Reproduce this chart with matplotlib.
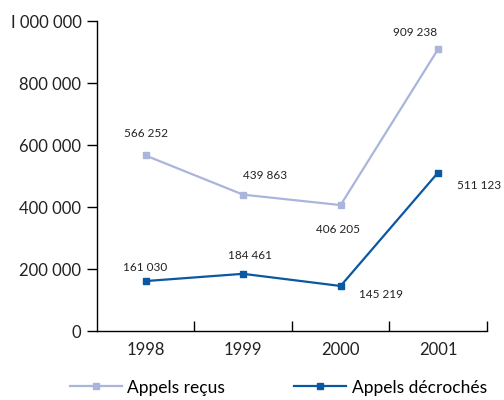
import matplotlib
matplotlib.use("Agg")
import matplotlib.pyplot as plt

years = ["1998", "1999", "2000", "2001"]
recus = [566252, 439863, 406205, 909238]
decroches = [161030, 184461, 145219, 511123]
lbl_recus = ["566 252", "439 863", "406 205", "909 238"]
lbl_decroches = ["161 030", "184 461", "145 219", "511 123"]
yticks = [0, 200000, 400000, 600000, 800000, 1000000]
ytick_labels = ["0", "200 000", "400 000", "600 000", "800 000", "I 000 000"]

light = "#aab5dc"
dark = "#0a57a4"
txt = "#222222"

plt.rcParams["font.family"] = ["Lato", "DejaVu Sans"]

fig = plt.figure(figsize=(5.04, 4.0), dpi=100)
ax = fig.add_axes([0.192, 0.1725, 0.774, 0.775])

x = list(range(len(years)))
ax.plot(x, recus, color=light, lw=1.6, marker="s", ms=5, label="Appels reçus")
ax.plot(x, decroches, color=dark, lw=1.6, marker="s", ms=5, label="Appels décrochés")

off_recus = [(0, 22), (22, 19), (-3, -24), (-23, 17)]
off_decr = [(0, 14), (7, 18), (40, -9), (41, -13)]
for i in x:
    ax.annotate(lbl_recus[i], (i, recus[i]), xytext=off_recus[i],
                textcoords="offset pixels", ha="center", va="center",
                fontsize=8.5, color=txt)
    ax.annotate(lbl_decroches[i], (i, decroches[i]), xytext=off_decr[i],
                textcoords="offset pixels", ha="center", va="center",
                fontsize=8.5, color=txt)

ax.set_xlim(-0.5, 3.5)
ax.set_ylim(0, 1000000)
ax.set_yticks(yticks)
ax.set_yticklabels(ytick_labels, fontsize=12, color=txt)
ax.set_xticks(x)
ax.set_xticklabels(years, fontsize=12, color=txt)
ax.tick_params(axis="x", length=0, pad=8)
ax.set_xticks([0.5, 1.5, 2.5, 3.5], minor=True)
ax.tick_params(axis="x", which="minor", direction="in", length=7, width=1)
ax.tick_params(axis="y", direction="out", length=7, width=1, pad=4)

for s in ["top", "right"]:
    ax.spines[s].set_visible(False)
for s in ["left", "bottom"]:
    ax.spines[s].set_linewidth(1)

fig.legend(loc="lower center", bbox_to_anchor=(0.552, -0.028), ncol=2,
           frameon=False, fontsize=12.5, handlelength=3.0, handletextpad=0.3,
           columnspacing=4.0)

fig.savefig("out.png", dpi=100)
